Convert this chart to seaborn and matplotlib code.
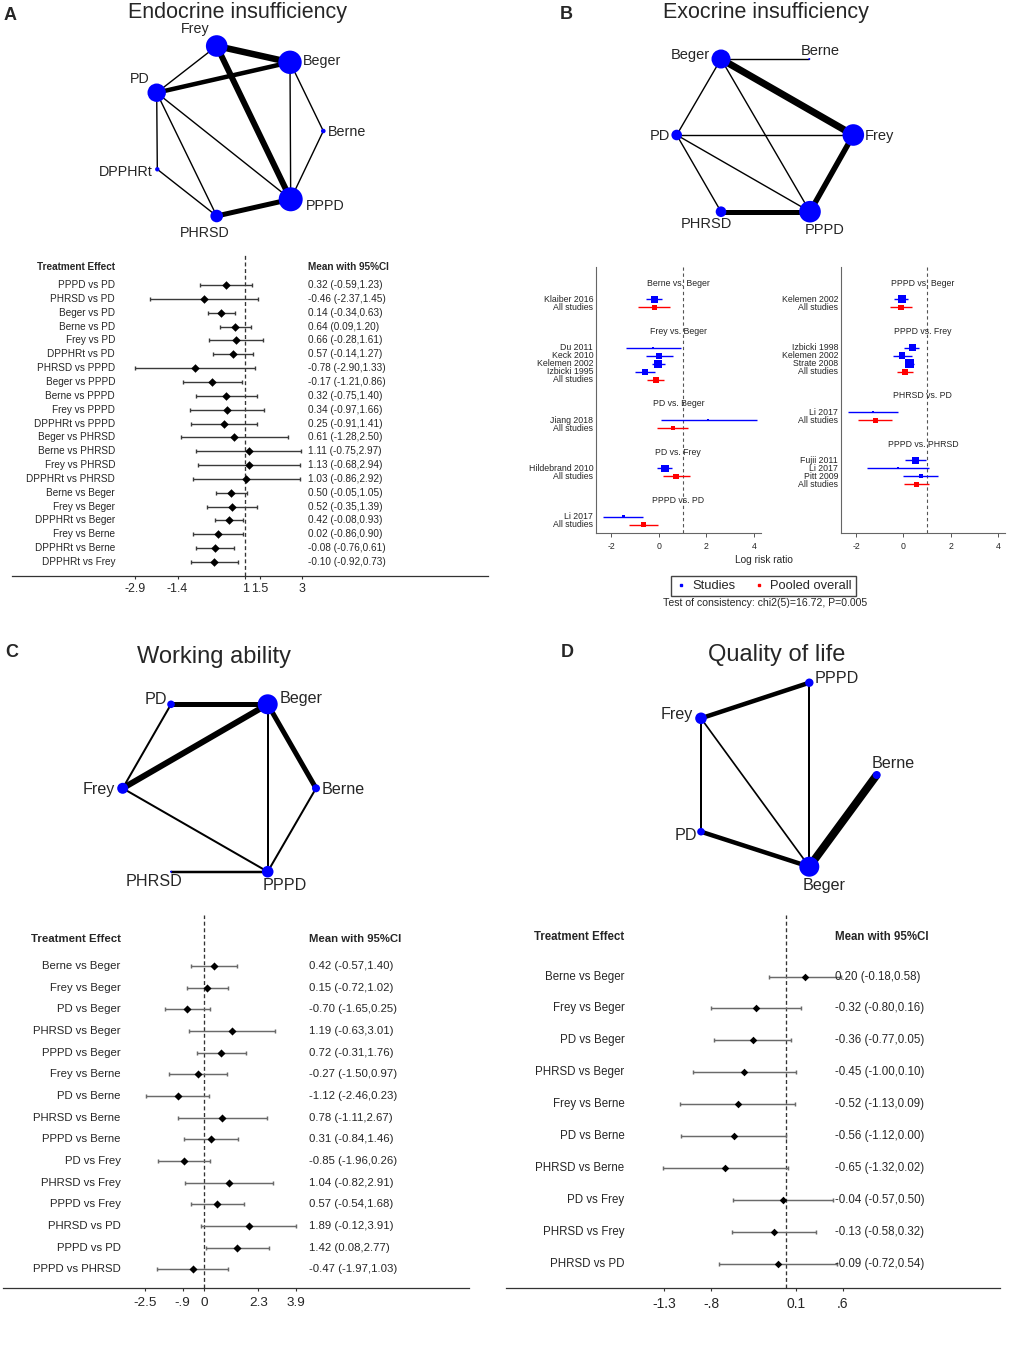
import numpy as np
import pandas as pd
import seaborn as sns
import matplotlib
matplotlib.use("Agg")
from matplotlib import pyplot as plt
from matplotlib.lines import Line2D
import matplotlib.transforms as mtransforms

# ---------------- network data (layout in panel pixels, node radius, edge width) -------------
endo_nodes = ["Frey", "Beger", "PD", "Berne", "DPPHRt", "PHRSD", "PPPD"]
endo_x = [216.7, 290.0, 156.7, 323.3, 157.3, 216.7, 290.7]
endo_y = [46.0, 62.3, 92.7, 131.0, 169.3, 216.0, 199.3]
endo_r = [10.8, 11.7, 9.2, 2.3, 2.2, 6.3, 12.0]
endo_edges = [("Frey", "Beger"), ("Frey", "PPPD"), ("PD", "Beger"), ("PHRSD", "PPPD"),
              ("Frey", "PD"), ("PD", "DPPHRt"), ("PD", "PHRSD"), ("PD", "PPPD"),
              ("DPPHRt", "PHRSD"), ("Beger", "PPPD"), ("Beger", "Berne"), ("Berne", "PPPD")]
endo_w = [6.5, 6.0, 4.5, 5.0, 1.4, 1.4, 1.4, 1.4, 1.4, 1.4, 1.4, 1.4]

exo_nodes = ["Beger", "Berne", "PD", "Frey", "PHRSD", "PPPD"]
exo_x = [721.0, 809.3, 676.7, 853.3, 721.0, 810.0]
exo_y = [59.0, 59.0, 135.0, 135.0, 211.7, 211.7]
exo_r = [9.5, 1.0, 5.3, 10.8, 5.3, 10.8]
exo_edges = [("Beger", "Berne"), ("Beger", "Frey"), ("Beger", "PD"), ("Beger", "PPPD"),
             ("PD", "Frey"), ("PD", "PPPD"), ("PD", "PHRSD"), ("PHRSD", "PPPD"), ("Frey", "PPPD")]
exo_w = [1.4, 7.0, 1.4, 1.4, 1.4, 1.4, 1.4, 5.0, 5.5]

work_nodes = ["PD", "Beger", "Frey", "Berne", "PHRSD", "PPPD"]
work_x = [171.0, 267.7, 122.7, 316.0, 171.0, 267.7]
work_y = [704.3, 704.3, 788.3, 788.3, 871.7, 871.7]
work_r = [3.8, 10.0, 5.5, 4.0, 1.0, 5.8]
work_edges = [("PD", "Beger"), ("Frey", "Beger"), ("Beger", "Berne"), ("PD", "Frey"),
              ("Beger", "PPPD"), ("Frey", "PPPD"), ("Berne", "PPPD"), ("PHRSD", "PPPD")]
work_w = [5.0, 6.0, 5.0, 2.0, 2.0, 2.0, 2.0, 2.5]

qol_nodes = ["PPPD", "Frey", "Berne", "PD", "Beger"]
qol_x = [809.3, 701.0, 876.7, 701.0, 809.3]
qol_y = [682.7, 718.3, 775.0, 831.7, 866.7]
qol_r = [4.2, 5.8, 4.0, 3.8, 10.0]
qol_edges = [("Frey", "PPPD"), ("PPPD", "Beger"), ("Frey", "PD"), ("Frey", "Beger"),
             ("PD", "Beger"), ("Berne", "Beger")]
qol_w = [4.5, 2.0, 2.0, 1.7, 4.5, 8.0]

# ---------------- league-table forest data -------------
endo_labels = ["PPPD vs PD", "PHRSD vs PD", "Beger vs PD", "Berne vs PD", "Frey vs PD",
               "DPPHRt vs PD", "PHRSD vs PPPD", "Beger vs PPPD", "Berne vs PPPD", "Frey vs PPPD",
               "DPPHRt vs PPPD", "Beger vs PHRSD", "Berne vs PHRSD", "Frey vs PHRSD",
               "DPPHRt vs PHRSD", "Berne vs Beger", "Frey vs Beger", "DPPHRt vs Beger",
               "Frey vs Berne", "DPPHRt vs Berne", "DPPHRt vs Frey"]
endo_mean = [0.32, -0.46, 0.14, 0.64, 0.66, 0.57, -0.78, -0.17, 0.32, 0.34, 0.25, 0.61,
             1.11, 1.13, 1.03, 0.50, 0.52, 0.42, 0.02, -0.08, -0.10]
endo_lo = [-0.59, -2.37, -0.34, 0.09, -0.28, -0.14, -2.90, -1.21, -0.75, -0.97, -0.91, -1.28,
           -0.75, -0.68, -0.86, -0.05, -0.35, -0.08, -0.86, -0.76, -0.92]
endo_hi = [1.23, 1.45, 0.63, 1.20, 1.61, 1.27, 1.33, 0.86, 1.40, 1.66, 1.41, 2.50,
           2.97, 2.94, 2.92, 1.05, 1.39, 0.93, 0.90, 0.61, 0.73]
endo_ticks = [-2.9, -1.4, 1, 1.5, 3]
endo_ticklabels = ["-2.9", "-1.4", "1", "1.5", "3"]

work_labels = ["Berne vs Beger", "Frey vs Beger", "PD vs Beger", "PHRSD vs Beger", "PPPD vs Beger",
               "Frey vs Berne", "PD vs Berne", "PHRSD vs Berne", "PPPD vs Berne", "PD vs Frey",
               "PHRSD vs Frey", "PPPD vs Frey", "PHRSD vs PD", "PPPD vs PD", "PPPD vs PHRSD"]
work_mean = [0.42, 0.15, -0.70, 1.19, 0.72, -0.27, -1.12, 0.78, 0.31, -0.85, 1.04, 0.57, 1.89, 1.42, -0.47]
work_lo = [-0.57, -0.72, -1.65, -0.63, -0.31, -1.50, -2.46, -1.11, -0.84, -1.96, -0.82, -0.54, -0.12, 0.08, -1.97]
work_hi = [1.40, 1.02, 0.25, 3.01, 1.76, 0.97, 0.23, 2.67, 1.46, 0.26, 2.91, 1.68, 3.91, 2.77, 1.03]
work_ticks = [-2.5, -0.9, 0, 2.3, 3.9]
work_ticklabels = ["-2.5", "-.9", "0", "2.3", "3.9"]

qol_labels = ["Berne vs Beger", "Frey vs Beger", "PD vs Beger", "PHRSD vs Beger", "Frey vs Berne",
              "PD vs Berne", "PHRSD vs Berne", "PD vs Frey", "PHRSD vs Frey", "PHRSD vs PD"]
qol_mean = [0.20, -0.32, -0.36, -0.45, -0.52, -0.56, -0.65, -0.04, -0.13, -0.09]
qol_lo = [-0.18, -0.80, -0.77, -1.00, -1.13, -1.12, -1.32, -0.57, -0.58, -0.72]
qol_hi = [0.58, 0.16, 0.05, 0.10, 0.09, 0.00, 0.02, 0.50, 0.32, 0.54]
qol_ticks = [-1.3, -0.8, 0.1, 0.6]
qol_ticklabels = ["-1.3", "-.8", "0.1", ".6"]

# ---------------- exocrine side-splitting forest data -------------
exoL_groups = ["Berne vs. Beger", "Frey vs. Beger", "PD vs. Beger", "PD vs. Frey", "PPPD vs. PD"]
exoL_counts = [2, 5, 2, 2, 2]
exoL_labels = ["Klaiber 2016", "All studies", "Du 2011", "Keck 2010", "Kelemen 2002", "Izbicki 1995",
               "All studies", "Jiang 2018", "All studies", "Hildebrand 2010", "All studies",
               "Li 2017", "All studies"]
exoL_est = [-0.18, -0.18, -0.23, 0.01, -0.03, -0.58, -0.13, 2.06, 0.59, 0.26, 0.73, -1.50, -0.65]
exoL_lo = [-0.53, -0.86, -1.39, -0.53, -0.28, -1.00, -0.50, 0.08, -0.08, -0.08, 0.19, -2.34, -1.25]
exoL_hi = [0.15, 0.47, 0.94, 0.59, 0.26, -0.14, 0.24, 4.12, 1.24, 0.56, 1.31, -0.67, -0.04]
exoL_weight = [7.7, 5.0, 2.0, 5.7, 8.0, 6.0, 6.0, 2.0, 4.5, 7.5, 5.5, 3.0, 4.5]

exoR_groups = ["PPPD vs. Beger", "PPPD vs. Frey", "PHRSD vs. PD", "PPPD vs. PHRSD"]
exoR_counts = [2, 4, 2, 4]
exoR_labels = ["Kelemen 2002", "All studies", "Izbicki 1998", "Kelemen 2002", "Strate 2008",
               "All studies", "Li 2017", "All studies", "Fujii 2011", "Li 2017", "Pitt 2009",
               "All studies"]
exoR_est = [-0.07, -0.10, 0.37, -0.06, 0.25, 0.07, -1.29, -1.19, 0.52, -0.24, 0.73, 0.56]
exoR_lo = [-0.39, -0.56, 0.03, -0.42, 0.08, -0.25, -2.35, -1.92, 0.07, -1.55, -0.03, 0.04]
exoR_hi = [0.21, 0.38, 0.68, 0.35, 0.45, 0.42, -0.24, -0.46, 0.94, 1.07, 1.48, 1.08]
exoR_weight = [8.0, 5.5, 7.0, 6.5, 9.0, 6.0, 2.5, 5.0, 6.5, 2.0, 4.0, 5.0]

sns.set_style("white")
plt.rcParams["font.family"] = ["Liberation Sans", "DejaVu Sans"]

W, H = 1013, 1350
fig = plt.figure(figsize=(W / 100, H / 100), dpi=100)


def px_axes(x0, y0, x1, y1):
    return fig.add_axes([x0 / W, 1 - y1 / H, (x1 - x0) / W, (y1 - y0) / H])


def network(box, nodes, xs, ys, rs, edges, widths, offsets, fs):
    x0, y0, x1, y1 = box
    ax = px_axes(*box)
    pos = {n: (x, y) for n, x, y in zip(nodes, xs, ys)}
    for (a, b), w in zip(edges, widths):
        ax.plot([pos[a][0], pos[b][0]], [pos[a][1], pos[b][1]], color="black",
                lw=w * 0.72, solid_capstyle="butt", zorder=1)
    df = pd.DataFrame({"x": xs, "y": ys})
    sns.scatterplot(data=df, x="x", y="y", s=(np.array(rs) * 2 * 0.72) ** 2, color="blue",
                    linewidth=0, ax=ax, zorder=2, legend=False)
    for n, x, y in zip(nodes, xs, ys):
        dx, dy, ha = offsets[n]
        ax.text(x + dx, y + dy, n, ha=ha, va="center", fontsize=fs)
    ax.set_xlim(x0, x1)
    ax.set_ylim(y1, y0)
    ax.set_axis_off()


def forest(box, xlim, ylim, labels, mean, lo, hi, ticks, ticklabels, ref, label_x, value_x,
           header_row, fs, tick_fs, ms, ci_color, ci_lw, pad):
    ax = px_axes(*box)
    mean, lo, hi = np.array(mean), np.array(lo), np.array(hi)
    rows = np.arange(len(labels))
    ax.errorbar(mean, rows, xerr=[mean - lo, hi - mean], fmt="none", ecolor=ci_color,
                elinewidth=ci_lw, capsize=1.6, capthick=ci_lw, zorder=2)
    df = pd.DataFrame({"mean": mean, "row": rows})
    sns.scatterplot(data=df, x="mean", y="row", marker="D", s=ms, color="black",
                    linewidth=0, ax=ax, zorder=3, legend=False)
    ax.axvline(ref, color="#333333", lw=0.95, ls=(0, (3, 2)), zorder=1)
    for r, lab, m, l, h in zip(rows, labels, mean, lo, hi):
        ax.text(label_x, r, lab, ha="right", va="center", fontsize=fs)
        ax.text(value_x, r, f"{m:.2f} ({l:.2f},{h:.2f})", ha="left", va="center", fontsize=fs)
    ax.text(label_x, header_row, "Treatment Effect", ha="right", va="center",
            fontsize=fs, fontweight="bold")
    ax.text(value_x, header_row, "Mean with 95%CI", ha="left", va="center",
            fontsize=fs, fontweight="bold")
    ax.set_xlim(xlim)
    ax.set_ylim(ylim)
    ax.set(xlabel="", ylabel="")
    ax.set_yticks([])
    ax.set_xticks(ticks)
    ax.set_xticklabels(ticklabels, fontsize=tick_fs)
    ax.tick_params(axis="x", direction="out", length=2.2, width=0.8, pad=pad,
                   color="#333333", bottom=True)
    for s in ["top", "left", "right"]:
        ax.spines[s].set_visible(False)
    ax.spines["bottom"].set_color("#333333")
    ax.spines["bottom"].set_linewidth(0.9)
    ax.patch.set_alpha(0)


def stata_forest(box, groups, counts, labels, est, lo, hi, weight):
    ax = px_axes(*box)
    rows, kind, header_rows = [], [], []
    r = 0
    for n in counts:
        header_rows.append(r)
        rows.extend(range(r + 2, r + 2 + n))
        kind.extend(["Studies"] * (n - 1) + ["Pooled overall"])
        r += n + 4
    df = pd.DataFrame({"row": rows, "est": est, "lo": lo, "hi": hi, "kind": kind,
                       "w": weight})
    cols = {"Studies": "blue", "Pooled overall": "red"}
    ax.hlines(df["row"], df["lo"], df["hi"], colors=df["kind"].map(cols), lw=1.0, zorder=2)
    sns.scatterplot(data=df, x="est", y="row", hue="kind", palette=cols, marker="s",
                    s=(df["w"] * 0.72) ** 2, linewidth=0, ax=ax, zorder=3, legend=False)
    ax.axvline(1, color="#555555", lw=0.8, ls=(0, (3, 2.5)), zorder=1)
    blend = mtransforms.blended_transform_factory(ax.transAxes, ax.transData)
    for g, hr in zip(groups, header_rows):
        ax.text(0.5, hr, g, transform=blend, ha="center", va="center", fontsize=6.3)
    for rr, lab in zip(rows, labels):
        ax.text(-0.015, rr, lab, transform=blend, ha="right", va="center", fontsize=6.3)
    ax.set_xlim(-2.65, 4.3)
    ax.set_ylim(31.0, -2.06)
    ax.set(xlabel="", ylabel="")
    ax.set_yticks([])
    ax.set_xticks([-2, 0, 2, 4])
    ax.set_xticklabels(["-2", "0", "2", "4"], fontsize=6.3)
    ax.tick_params(axis="x", direction="out", length=3, width=0.7, pad=4,
                   color="#555555", bottom=True)
    for s in ["top", "right"]:
        ax.spines[s].set_visible(False)
    for s in ["left", "bottom"]:
        ax.spines[s].set_color("#666666")
        ax.spines[s].set_linewidth(0.8)


# ---------------- panel A -------------
fig.text(10 / W, 1 - 15 / H, "A", ha="center", va="center", fontsize=13, fontweight="bold")
fig.text(237.7 / W, 1 - 18 / H, "Endocrine insufficiency", ha="center", va="baseline", fontsize=15.5)
network((80, 22, 390, 245), endo_nodes, endo_x, endo_y, endo_r, endo_edges, endo_w,
        {"Frey": (-21.7, -16.7, "center"), "Beger": (13.3, -1.3, "left"),
         "PD": (-7.4, -13.4, "right"), "Berne": (5, 0.7, "left"),
         "DPPHRt": (-4.6, 2.4, "right"), "PHRSD": (-11.7, 17.3, "center"),
         "PPPD": (15.3, 6.7, "left")}, 10.3)
forest((12, 255, 488, 576), (-7.25, 9.57), (21.01, -2.17), endo_labels, endo_mean, endo_lo,
       endo_hi, endo_ticks, endo_ticklabels, 1, -3.61, 3.22, -1.28, 7.2, 8.9, 19,
       "#3a3a3a", 1.0, 2.5)

# ---------------- panel B -------------
fig.text(566.7 / W, 1 - 14.5 / H, "B", ha="center", va="center", fontsize=13, fontweight="bold")
fig.text(766 / W, 1 - 18 / H, "Exocrine insufficiency", ha="center", va="baseline", fontsize=15.5)
network((600, 35, 920, 240), exo_nodes, exo_x, exo_y, exo_r, exo_edges, exo_w,
        {"Beger": (-11, -4, "right"), "Berne": (-8.6, -8.3, "left"),
         "PD": (-6.7, 1, "right"), "Frey": (11.7, 1, "left"),
         "PHRSD": (-15, 12.3, "center"), "PPPD": (15, 18.3, "center")}, 10.5)
stata_forest((595.7, 266.7, 761, 532.7), exoL_groups, exoL_counts, exoL_labels, exoL_est,
             exoL_lo, exoL_hi, exoL_weight)
stata_forest((840.7, 266.7, 1005, 532.7), exoR_groups, exoR_counts, exoR_labels, exoR_est,
             exoR_lo, exoR_hi, exoR_weight)
fig.text(764 / W, 1 - 560 / H, "Log risk ratio", ha="center", va="center", fontsize=7.3)
handles = [Line2D([], [], ls="none", marker="s", ms=1.8, color="blue"),
           Line2D([], [], ls="none", marker="s", ms=1.8, color="red")]
fig.legend(handles, ["Studies", "Pooled overall"], loc="center",
           bbox_to_anchor=(763.5 / W, 1 - 586 / H), ncol=2, frameon=True, fancybox=False,
           edgecolor="#444444", fontsize=9.3, handlelength=0.8, handletextpad=0.5,
           columnspacing=1.4, borderpad=0.3, framealpha=1)
fig.text(765 / W, 1 - 603.5 / H, "Test of consistency: chi2(5)=16.72, P=0.005",
         ha="center", va="center", fontsize=7.6)

# ---------------- panel C -------------
fig.text(11.7 / W, 1 - 652.5 / H, "C", ha="center", va="center", fontsize=13, fontweight="bold")
fig.text(214 / W, 1 - 662.5 / H, "Working ability", ha="center", va="baseline", fontsize=17)
network((60, 680, 380, 900), work_nodes, work_x, work_y, work_r, work_edges, work_w,
        {"PD": (-4.3, -5, "right"), "Beger": (11.6, -5.6, "left"),
         "Frey": (-7.7, 1, "right"), "Berne": (5.7, 1, "left"),
         "PHRSD": (-16.7, 10, "center"), "PPPD": (16.6, 14, "center")}, 11.6)
forest((3.3, 915, 469.3, 1287.7), (-8.50, 11.24), (14.85, -2.35), work_labels, work_mean,
       work_lo, work_hi, work_ticks, work_ticklabels, 0, -3.53, 4.46, -1.23, 8.2, 9.7, 17,
       "#6a6a6a", 1.05, 4.3)

# ---------------- panel D -------------
fig.text(567 / W, 1 - 652 / H, "D", ha="center", va="center", fontsize=13, fontweight="bold")
fig.text(776.7 / W, 1 - 660.7 / H, "Quality of life", ha="center", va="baseline", fontsize=17)
network((640, 665, 940, 900), qol_nodes, qol_x, qol_y, qol_r, qol_edges, qol_w,
        {"PPPD": (5.7, -4.7, "left"), "Frey": (-7.7, -4.3, "right"),
         "Berne": (16.6, -11.7, "center"), "PD": (-4.3, 4.3, "right"),
         "Beger": (15, 19, "center")}, 11.6)
forest((506, 915, 1000, 1288.3), (-2.99, 2.28), (9.77, -1.93), qol_labels, qol_mean,
       qol_lo, qol_hi, qol_ticks, qol_ticklabels, 0, -1.726, 0.522, -1.25, 8.3, 10, 15,
       "#6a6a6a", 1.05, 4.3)

fig.savefig("out.png", dpi=100, facecolor="white")
